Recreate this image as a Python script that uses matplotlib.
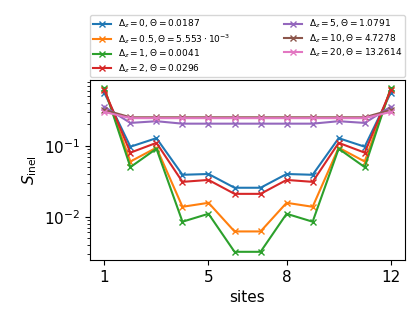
import matplotlib
matplotlib.use("Agg")
import matplotlib.pyplot as plt
import numpy as np

sites = np.arange(1, 13)

# half profiles (sites 1..6), chain is mirror symmetric
s_d0 = [0.557, 0.097, 0.128, 0.039, 0.040, 0.0256]
s_d05 = [0.63, 0.060, 0.094, 0.0138, 0.0157, 0.0062]
s_d1 = [0.65, 0.050, 0.091, 0.0085, 0.011, 0.0032]
s_d2 = [0.61, 0.080, 0.110, 0.031, 0.033, 0.021]
s_d5 = [0.355, 0.210, 0.222, 0.205, 0.205, 0.205]
s_d10 = [0.32, 0.252, 0.252, 0.252, 0.252, 0.252]
s_d20 = [0.30, 0.245, 0.245, 0.245, 0.245, 0.245]

labels = [
    r"$\Delta_z = 0, \Theta = 0.0187$",
    r"$\Delta_z = 0.5, \Theta = 5.553 \cdot 10^{-3}$",
    r"$\Delta_z = 1, \Theta = 0.0041$",
    r"$\Delta_z = 2, \Theta = 0.0296$",
    r"$\Delta_z = 5, \Theta = 1.0791$",
    r"$\Delta_z = 10, \Theta = 4.7278$",
    r"$\Delta_z = 20, \Theta = 13.2614$",
]
series = [s_d0, s_d05, s_d1, s_d2, s_d5, s_d10, s_d20]

fig = plt.figure(figsize=(4.15, 3.11), dpi=100)
ax = fig.add_axes([0.217, 0.164, 0.759, 0.579])

for half, lab in zip(series, labels):
    full = half + half[::-1]
    ax.plot(sites, full, marker='x', markersize=5, label=lab)

ax.set_yscale('log')
ax.set_xticks([1, 5, 8, 12])
ax.tick_params(labelsize=11)
ax.set_xlabel("sites", fontsize=11)
ax.set_ylabel(r"$S_\mathrm{inel}$", fontsize=11)

ax.legend(loc='lower left', bbox_to_anchor=(0, 1.015, 1, 0.3), mode='expand',
          ncol=2, fontsize=6.5, borderaxespad=0, handlelength=2,
          labelspacing=0.2, borderpad=0.3)

fig.savefig("out.png", dpi=100)
